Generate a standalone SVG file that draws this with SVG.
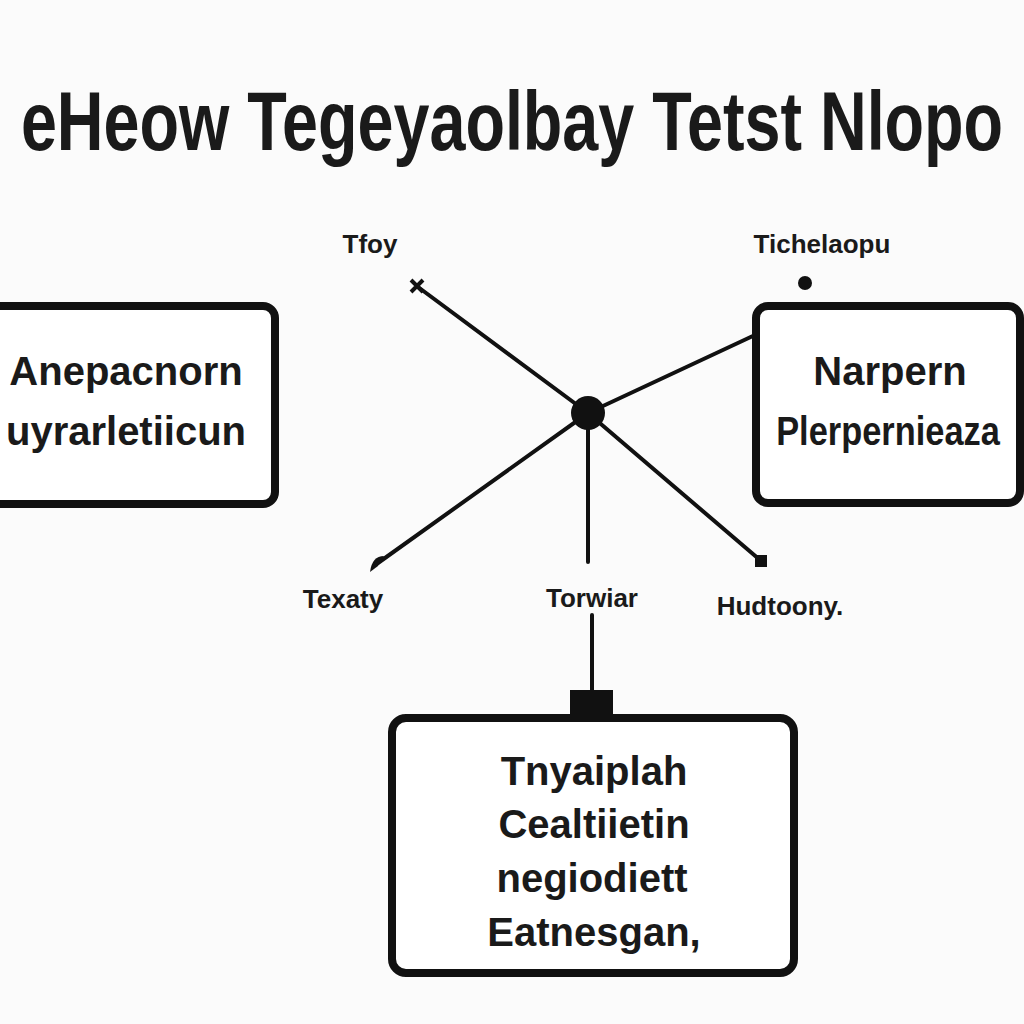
<svg xmlns="http://www.w3.org/2000/svg" width="1024" height="1024" viewBox="0 0 1024 1024">
<style>
text{font-family:"Liberation Sans",Arial,sans-serif;fill:#1a1a1a;font-weight:bold}
.box{fill:#fff;stroke:#111;stroke-width:8}
.lbl{font-size:26px;text-anchor:middle}
.nt{font-size:40px;text-anchor:middle}
.ln{stroke:#111;stroke-width:4;fill:none;stroke-linecap:round}
</style>
<rect width="1024" height="1024" fill="#fbfbfb"/>
<text id="title" transform="translate(512,150) scale(0.77,1)" x="0" y="0" font-size="84" text-anchor="middle">eHeow Tegeyaolbay Tetst Nlopo</text>
<g id="connectors">
<line class="ln" x1="588" y1="413" x2="418" y2="287"/>
<line class="ln" x1="588" y1="413" x2="755" y2="335"/>
<line class="ln" x1="588" y1="413" x2="588" y2="562"/>
<line class="ln" x1="588" y1="413" x2="378" y2="563"/>
<line class="ln" x1="588" y1="413" x2="760" y2="560"/>
<line class="ln" x1="592" y1="615" x2="592" y2="692"/>
<path d="M411 280 L423 292 M423 280 L411 292" stroke="#111" stroke-width="4"/>
<path d="M370 572 Q372 556 384 556 L378 566 Z" fill="#111"/>
<rect x="755" y="555" width="12" height="12" fill="#111"/>
</g>
<g id="hub"><circle cx="588" cy="413" r="17" fill="#111"/></g>
<g id="dot"><circle cx="805" cy="283" r="7" fill="#111"/></g>
<g id="lbl-tfoy"><text class="lbl" x="370" y="253">Tfoy</text></g>
<g id="lbl-tichel"><text class="lbl" x="822" y="253">Tichelaopu</text></g>
<g id="lbl-texaty"><text class="lbl" x="343" y="608" font-size="24">Texaty</text></g>
<g id="lbl-torwiar"><text class="lbl" x="592" y="607">Torwiar</text></g>
<g id="lbl-hud"><text class="lbl" x="780" y="615">Hudtoony.</text></g>
<g id="node-left">
<rect class="box" x="-12" y="306" width="287" height="198" rx="12"/>
<text class="nt" x="126" y="385">Anepacnorn</text>
<text class="nt" x="126" y="445">uyrarletiicun</text>
</g>
<g id="node-right">
<rect class="box" x="756" y="306" width="264" height="197" rx="12"/>
<text class="nt" x="890" y="385">Narpern</text>
<text class="nt" transform="translate(888,445) scale(0.86,1)" x="0" y="0">Plerpernieaza</text>
</g>
<g id="node-bottom">
<rect x="570" y="690" width="43" height="30" fill="#111"/>
<rect class="box" x="392" y="718" width="402" height="255" rx="14"/>
<text class="nt" x="594" y="785">Tnyaiplah</text>
<text class="nt" x="594" y="838">Cealtiietin</text>
<text class="nt" x="592" y="892" font-size="36">negiodiett</text>
<text class="nt" x="594" y="946" font-size="36">Eatnesgan,</text>
</g>
</svg>
